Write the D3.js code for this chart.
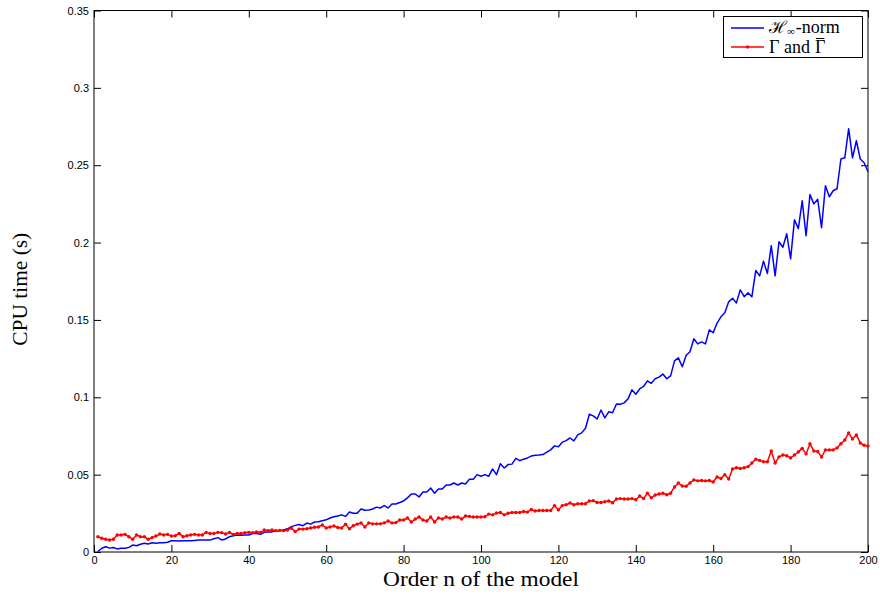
<!DOCTYPE html>
<html>
<head>
<meta charset="utf-8">
<script src="https://cdn.jsdelivr.net/npm/d3@7"></script>
<style>
html,body{margin:0;padding:0;background:#fff;}
svg{display:block;}
</style>
</head>
<body>
<svg id="chart" width="880" height="595"></svg>
<script>
// ---- data ----
const orders = d3.range(1, 201);
const hinfNorm = [
0.0003,0.0024,0.0034,0.0025,0.0029,0.0020,0.0024,0.0024,0.0030,0.0045,
0.0040,0.0050,0.0056,0.0052,0.0060,0.0057,0.0060,0.0060,0.0063,0.0073,
0.0073,0.0071,0.0073,0.0073,0.0073,0.0075,0.0077,0.0077,0.0077,0.0077,
0.0086,0.0093,0.0078,0.0084,0.0099,0.0105,0.0110,0.0108,0.0110,0.0110,
0.0120,0.0120,0.0114,0.0127,0.0130,0.0130,0.0136,0.0138,0.0142,0.0150,
0.0164,0.0172,0.0178,0.0170,0.0187,0.0180,0.0194,0.0196,0.0202,0.0208,
0.0220,0.0228,0.0233,0.0240,0.0230,0.0258,0.0250,0.0250,0.0278,0.0270,
0.0272,0.0278,0.0290,0.0285,0.0300,0.0285,0.0310,0.0310,0.0320,0.0330,
0.0350,0.0375,0.0375,0.0356,0.0388,0.0388,0.0414,0.0380,0.0407,0.0407,
0.0433,0.0433,0.0446,0.0433,0.0446,0.0440,0.0470,0.0470,0.0500,0.0490,
0.0500,0.0490,0.0537,0.0500,0.0570,0.0543,0.0565,0.0568,0.0605,0.0590,
0.0600,0.0608,0.0620,0.0625,0.0627,0.0630,0.0645,0.0660,0.0686,0.0680,
0.0710,0.0720,0.0737,0.0718,0.0757,0.0770,0.0800,0.0890,0.0880,0.0860,
0.0918,0.0867,0.0906,0.0900,0.0957,0.0955,0.0964,0.0990,0.1048,0.1020,
0.1054,0.1070,0.1106,0.1090,0.1120,0.1130,0.1150,0.1120,0.1138,0.1235,
0.1255,0.1197,0.1270,0.1294,0.1378,0.1345,0.1358,0.1345,0.1436,0.1417,
0.1480,0.1520,0.1546,0.1617,0.1640,0.1610,0.1695,0.1650,0.1675,0.1650,
0.1820,0.1785,0.1880,0.1800,0.1980,0.1785,0.2005,0.1970,0.2057,0.1895,
0.2147,0.2090,0.2270,0.2044,0.2310,0.2250,0.2280,0.2096,0.2367,0.2296,
0.2335,0.2348,0.2540,0.2548,0.2736,0.2548,0.2658,0.2540,0.2516,0.2458
];
const gammaTime = [
0.0099,0.0089,0.0082,0.0078,0.0082,0.0110,0.0110,0.0114,0.0099,0.0082,
0.0110,0.0099,0.0099,0.0082,0.0093,0.0103,0.0116,0.0110,0.0114,0.0103,
0.0105,0.0120,0.0099,0.0105,0.0110,0.0114,0.0110,0.0110,0.0127,0.0120,
0.0120,0.0127,0.0125,0.0116,0.0127,0.0114,0.0120,0.0120,0.0125,0.0127,
0.0125,0.0130,0.0127,0.0142,0.0138,0.0142,0.0138,0.0140,0.0138,0.0142,
0.0155,0.0132,0.0148,0.0148,0.0150,0.0155,0.0160,0.0162,0.0175,0.0155,
0.0162,0.0168,0.0158,0.0155,0.0180,0.0150,0.0170,0.0180,0.0187,0.0162,
0.0187,0.0182,0.0182,0.0182,0.0188,0.0200,0.0188,0.0190,0.0207,0.0207,
0.0220,0.0194,0.0213,0.0226,0.0207,0.0200,0.0226,0.0194,0.0220,0.0213,
0.0226,0.0220,0.0226,0.0226,0.0213,0.0233,0.0230,0.0226,0.0226,0.0226,
0.0228,0.0245,0.0240,0.0252,0.0255,0.0240,0.0250,0.0255,0.0255,0.0255,
0.0262,0.0258,0.0275,0.0265,0.0268,0.0268,0.0268,0.0268,0.0300,0.0272,
0.0300,0.0305,0.0317,0.0305,0.0312,0.0312,0.0312,0.0330,0.0332,0.0320,
0.0320,0.0325,0.0330,0.0318,0.0343,0.0345,0.0343,0.0343,0.0345,0.0338,
0.0362,0.0345,0.0380,0.0350,0.0368,0.0375,0.0380,0.0370,0.0380,0.0420,
0.0446,0.0427,0.0425,0.0446,0.0466,0.0460,0.0462,0.0460,0.0462,0.0452,
0.0485,0.0475,0.0500,0.0472,0.0537,0.0545,0.0540,0.0545,0.0552,0.0575,
0.0600,0.0592,0.0583,0.0583,0.0653,0.0575,0.0615,0.0627,0.0622,0.0608,
0.0627,0.0647,0.0670,0.0634,0.0700,0.0653,0.0650,0.0614,0.0660,0.0660,
0.0660,0.0673,0.0700,0.0724,0.0770,0.0730,0.0757,0.0705,0.0690,0.0685
];
const xTicks = [0,20,40,60,80,100,120,140,160,180,200];
const yTicks = [0,0.05,0.1,0.15,0.2,0.25,0.3,0.35];
const yTickLabels = ["0","0.05","0.1","0.15","0.2","0.25","0.3","0.35"];

// ---- layout ----
const svg = d3.select("#chart");
const L = 94, R = 868, T = 10.5, B = 552;
const x = d3.scaleLinear().domain([0,200]).range([L,R]);
const y = d3.scaleLinear().domain([0,0.35]).range([B,T]);
const tickLen = 7;

const bottomAx = svg.append("g").attr("transform",`translate(0,${B})`)
  .call(d3.axisBottom(x).tickValues(xTicks).tickSize(-tickLen).tickPadding(4).tickFormat(d3.format("d")));
const topAx = svg.append("g").attr("transform",`translate(0,${T})`)
  .call(d3.axisTop(x).tickValues(xTicks).tickSize(-tickLen).tickFormat(""));
const leftAx = svg.append("g").attr("transform",`translate(${L},0)`)
  .call(d3.axisLeft(y).tickValues(yTicks).tickSize(-tickLen).tickPadding(5).tickFormat((d,i)=>yTickLabels[i]));
const rightAx = svg.append("g").attr("transform",`translate(${R},0)`)
  .call(d3.axisRight(y).tickValues(yTicks).tickSize(-tickLen).tickFormat(""));
[bottomAx,topAx,leftAx,rightAx].forEach(g=>{
  g.select(".domain").remove();
  g.selectAll(".tick line").attr("stroke","#000").attr("stroke-width",1);
  g.selectAll(".tick text").attr("font-family","'Liberation Sans', Arial, sans-serif").attr("font-size",11).attr("fill","#000");
});
svg.append("rect").attr("x",L).attr("y",T).attr("width",R-L).attr("height",B-T)
  .attr("fill","none").attr("stroke","#000").attr("stroke-width",1);

// series
const line = d3.line().x((d,i)=>x(orders[i])).y(d=>y(d));
svg.append("path").datum(hinfNorm).attr("d",line)
  .attr("fill","none").attr("stroke","#0000ff").attr("stroke-width",1.5).attr("stroke-linejoin","round");
svg.append("path").datum(gammaTime).attr("d",line)
  .attr("fill","none").attr("stroke","#ff0000").attr("stroke-width",1.5).attr("stroke-linejoin","round");
svg.append("g").selectAll("circle").data(gammaTime).join("circle")
  .attr("cx",(d,i)=>x(orders[i])).attr("cy",d=>y(d)).attr("r",1.7).attr("fill","#ff0000");

// axis labels
const serif = "'Liberation Serif', 'DejaVu Serif', serif";
svg.append("text").attr("x",(L+R)/2).attr("y",586).attr("text-anchor","middle")
  .attr("font-family",serif).attr("font-size",20)
  .attr("textLength",196).attr("lengthAdjust","spacingAndGlyphs").text("Order n of the model");
svg.append("text").attr("transform",`translate(27,${(T+B)/2 + 8}) rotate(-90)`).attr("text-anchor","middle")
  .attr("font-family",serif).attr("font-size",20)
  .attr("textLength",113).attr("lengthAdjust","spacingAndGlyphs").text("CPU time (s)");

// legend
const lg = svg.append("g");
lg.append("rect").attr("x",723.5).attr("y",16.5).attr("width",139).attr("height",41)
  .attr("fill","#fff").attr("stroke","#000").attr("stroke-width",1);
lg.append("line").attr("x1",731).attr("x2",764).attr("y1",28).attr("y2",28).attr("stroke","#0000ff").attr("stroke-width",1.5);
lg.append("line").attr("x1",731).attr("x2",764).attr("y1",47).attr("y2",47).attr("stroke","#ff0000").attr("stroke-width",1.5);
lg.append("circle").attr("cx",747.5).attr("cy",47).attr("r",1.7).attr("fill","#ff0000");
const t1 = lg.append("text").attr("x",769).attr("y",33).attr("font-family",serif).attr("font-size",18);
t1.append("tspan").attr("font-family","'DejaVu Serif', serif").attr("font-size",17).text("ℋ");
t1.append("tspan").attr("dy",2).attr("font-size",11).text("∞");
t1.append("tspan").attr("dy",-2).attr("dx",1).text("-norm");
const t2 = lg.append("text").attr("x",769).attr("y",53).attr("font-family",serif).attr("font-size",18).text("Γ and");
const w2 = t2.node().getComputedTextLength() + 5;
const g2 = lg.append("text").attr("x",769 + w2).attr("y",53).attr("font-family",serif).attr("font-size",18).text("Γ");
const gw = g2.node().getComputedTextLength();
lg.append("line").attr("x1",769 + w2 + 1).attr("x2",769 + w2 + gw - 1).attr("y1",38.5).attr("y2",38.5)
  .attr("stroke","#000").attr("stroke-width",1);
</script>
</body>
</html>
